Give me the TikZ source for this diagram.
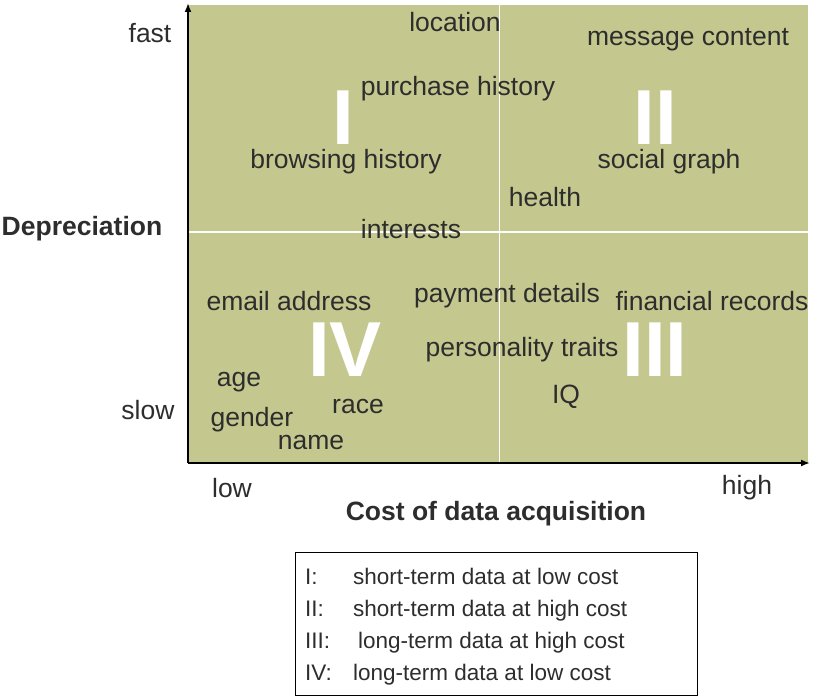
\documentclass[tikz,border=0pt]{standalone}
\usepackage{fontspec}
\setmainfont{Liberation Sans}
\usetikzlibrary{arrows.meta}
\definecolor{bg}{RGB}{196,200,142}
\definecolor{tx}{RGB}{45,45,45}
\begin{document}
\begin{tikzpicture}[x=1pt,y=-1pt,
  w/.style={text=tx,font=\fontsize{26.5}{30}\selectfont,inner sep=0pt},
  num/.style={text=white,font=\bfseries\fontsize{78}{78}\selectfont,inner sep=0pt},
  lg/.style={text=tx,font=\fontsize{22.5}{26}\selectfont,inner sep=0pt,anchor=base west}]
\useasboundingbox (0,0) rectangle (814,700);
\fill[bg] (188,5) rectangle (808,463);
\draw[white,line width=2.5pt] (188,232) -- (808,232);
\draw[white,line width=1pt] (499,5) -- (499,463);
\coordinate (o) at (188,463);
\coordinate (yt) at (188,3);
\coordinate (xt) at (810,463);
\draw[line width=2pt,-{Latex[length=9pt,width=7pt]}] (o) -- (yt);
\draw[line width=2pt,-{Latex[length=9pt,width=7pt]}] (o) -- (xt);
\node[num] (n1) at (343,118) {I};
\node[num] (n2) at (655,118) {II};
\node[num] (n4) at (345,350) {IV};
\node[num] (n3) at (655,350) {III};
\node[w] (a1) at (455,22) {location};
\node[w] (a2) at (688,40) {message content};
\node[w] (a3) at (458,89) {purchase history};
\node[w] (a4) at (346,162) {browsing history};
\node[w] (a5) at (669,162) {social graph};
\node[w] (a6) at (545,197) {health};
\node[w] (a7) at (411,229) {interests};
\node[w] (a8) at (289,301) {email address};
\node[w] (a9) at (507,296) {payment details};
\node[w] (a10) at (712,301) {financial records};
\node[w] (a11) at (522,350) {personality traits};
\node[w] (a12) at (239,382) {age};
\node[w] (a13) at (566,397) {IQ};
\node[w] (a14) at (358,406) {race};
\node[w] (a15) at (252,420) {gender};
\node[w] (a16) at (311,442) {name};
\node[w] (f) at (150,33) {fast};
\node[w] (s) at (148,410) {slow};
\node[w,font=\bfseries\fontsize{26.5}{30}\selectfont] (d) at (82,229) {Depreciation};
\node[w] (lo) at (232,488) {low};
\node[w] (hi) at (747,488) {high};
\node[w,font=\bfseries\fontsize{26.5}{30}\selectfont] (c) at (496,514) {Cost of data acquisition};
\draw[line width=0.8pt] (295,552) rectangle (697,695);
\node[lg] (l1) at (305,584) {I:};
\node[lg] (t1) at (353,584) {short-term data at low cost};
\node[lg] (l2) at (305,616) {II:};
\node[lg] (t2) at (353,616) {short-term data at high cost};
\node[lg] (l3) at (305,648) {III:};
\node[lg] (t3) at (358,648) {long-term data at high cost};
\node[lg] (l4) at (305,680) {IV:};
\node[lg] (t4) at (353,680) {long-term data at low cost};
\end{tikzpicture}
\end{document}
